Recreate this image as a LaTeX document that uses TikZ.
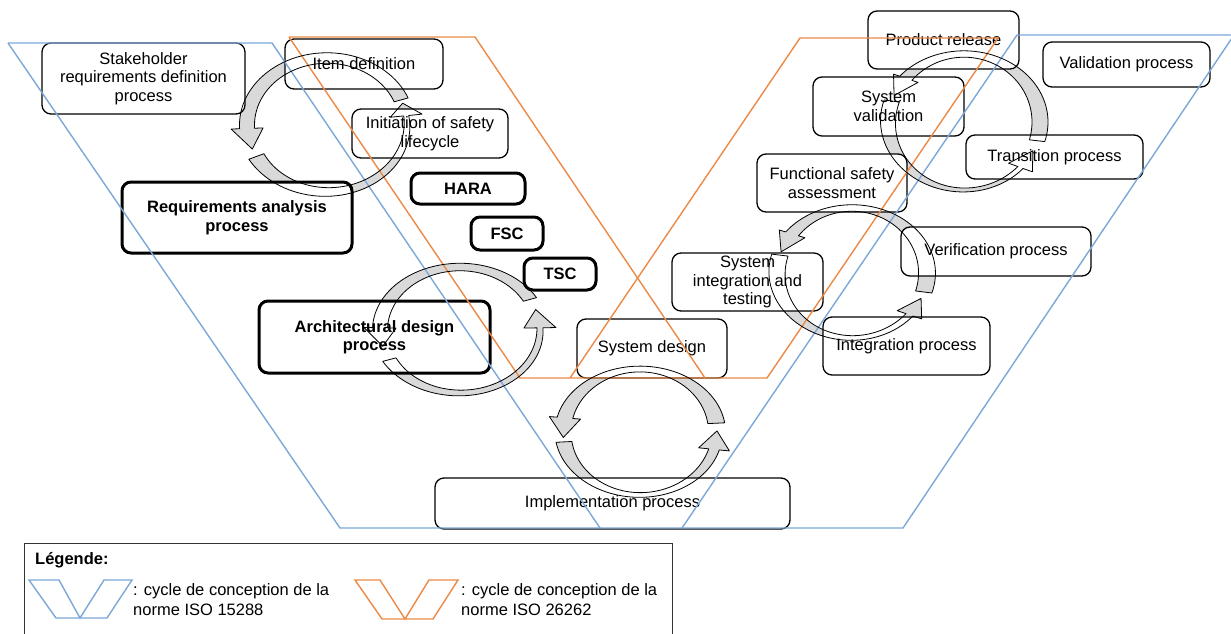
\documentclass[tikz,border=0pt]{standalone}
\usepackage{fontspec}
\setmainfont{Liberation Sans}
\definecolor{vblue}{HTML}{7DA7D9}
\definecolor{vorange}{HTML}{EB8A45}
\definecolor{arrowgray}{HTML}{D9D9D9}

% Circular arrows: centre, radii, band flattening, tail/head angles,
% tail/head half widths, tip angle.
\newcommand\HeadHalf{16}
\newcommand\carrows[1]{%
  \foreach \cx/\cy/\rx/\ry/\ky/\ta/\tb/\wa/\wb/\tp in {
    327/125/80/67/0.7/-22/-183/7.5/7.5/-201,
    327/125/80/67/0.7/152/-8/8.5/2.5/-19,
    460/330/80/63/0.5/-29/-178/7.5/7.5/-195,
    460/330/80/63/0.5/152/-2/7.5/3/-19,
    640/432/77/63/0.35/-8/-167/8.5/8/-185,
    640/432/77/63/0.35/171/16/8/5.5/-1,
    852/273/75/65/0.4/17/-143/8.5/8/-161,
    852/273/75/65/0.4/196/40/8.5/4.5/23,
    964/122/76/68/0.4/16/-140/8/8/-157,
    964/122/76/68/0.4/198/42/8/3.5/25}{
    \path[#1]
      plot[domain=0:1,samples=50,variable=\s]
        ({\cx+(\rx+(\wa+((\wb)-(\wa))*\s))*cos(\ta+((\tb)-(\ta))*\s)},
         {\cy+(\ry+(\wa+((\wb)-(\wa))*\s)*\ky)*sin(\ta+((\tb)-(\ta))*\s)})
      -- ({\cx+(\rx+\HeadHalf)*cos(\tb)},{\cy+(\ry+\HeadHalf*\ky)*sin(\tb)})
      -- ({\cx+\rx*cos(\tp)},{\cy+\ry*sin(\tp)})
      -- ({\cx+(\rx-\HeadHalf)*cos(\tb)},{\cy+(\ry-\HeadHalf*\ky)*sin(\tb)})
      -- plot[domain=0:1,samples=50,variable=\s]
        ({\cx+(\rx-(\wb+((\wa)-(\wb))*\s))*cos(\tb+((\ta)-(\tb))*\s)},
         {\cy+(\ry-(\wb+((\wa)-(\wb))*\s)*\ky)*sin(\tb+((\ta)-(\tb))*\s)})
      -- cycle;
  }%
}

\begin{document}
\begin{tikzpicture}[x=1pt,y=-1pt,
  box/.style={draw=black,line width=1.3pt,rounded corners=9pt,fill=white,
    align=center,inner sep=0pt,font=\fontsize{16.5}{18.5}\selectfont},
  boldbox/.style={box,line width=3pt,font=\fontsize{16.5}{18.5}\selectfont\bfseries},
  bluev/.style={draw=vblue,line width=1.4pt},
  orangev/.style={draw=vorange,line width=1.4pt},
  legtext/.style={anchor=west,align=left,inner sep=0pt,font=\fontsize{16.5}{20}\selectfont}]
\useasboundingbox (0,0) rectangle (1231,634);
\clip (0,0) rectangle (1231,634);

% arrow bodies
\carrows{fill=arrowgray}

% process boxes
\node[box,minimum width=203pt,minimum height=71pt] (stake) at (143.5,78.5) {Stakeholder\\requirements definition\\process};
\node[box,minimum width=158pt,minimum height=50pt] (item) at (364,64) {Item definition};
\node[box,minimum width=156pt,minimum height=49pt] (init) at (430,133.5) {Initiation of safety\\lifecycle};
\node[boldbox,minimum width=114pt,minimum height=31pt] (hara) at (468,188.5) {HARA};
\node[boldbox,minimum width=72pt,minimum height=33pt] (fsc) at (507,233.5) {FSC};
\node[boldbox,minimum width=72pt,minimum height=32pt] (tsc) at (560,274) {TSC};
\node[boldbox,minimum width=230pt,minimum height=71pt] (req) at (237,217.5) {Requirements analysis\\process};
\node[boldbox,minimum width=231pt,minimum height=72pt] (arch) at (374.5,337) {Architectural design\\process};
\node[box,minimum width=150pt,minimum height=59pt] (sysdes) at (652,348.5) {System design};
\node[box,minimum width=355pt,minimum height=51pt] (impl) at (612.5,503.5) {Implementation process};
\node[box,minimum width=151pt,minimum height=58pt] (sit) at (747.5,282) {System\\integration and\\testing};
\node[box,minimum width=167pt,minimum height=58pt] (integ) at (906.5,346) {Integration process};
\node[box,minimum width=190pt,minimum height=49pt] (verif) at (996,251.5) {Verification process};
\node[box,minimum width=150pt,minimum height=58pt] (fsa) at (832,183) {Functional safety\\assessment};
\node[box,minimum width=151pt,minimum height=59pt] (sysval) at (888.5,106.5) {System\\validation};
\node[box,minimum width=177pt,minimum height=44pt] (trans) at (1054.5,157) {Transition process};
\node[box,minimum width=151pt,minimum height=58pt] (prodrel) at (943.5,40) {Product release};
\node[box,minimum width=167pt,minimum height=45pt] (valproc) at (1126.5,64.5) {Validation process};

% ISO 15288 V cycle
\draw[bluev] (8,43) -- (340,528) -- (903,528) -- (1236,32);
\draw[bluev] (8,43) -- (272,43) -- (600,528);
\draw[bluev] (682,528) -- (1017,35) -- (1240,35);

% ISO 26262 V cycle
\draw[orangev] (289,37) -- (520,378) -- (767,378) -- (998,38) -- (800,38) -- (570,378);
\draw[orangev] (289,37) -- (475,37) -- (705,378);

% arrow outlines
\carrows{draw=black,line width=0.8pt,line join=round}

% legend
\draw[draw=black!80,line width=1pt] (24,543) rectangle (672,660);
\node[anchor=west,inner sep=0pt,font=\fontsize{16.5}{20}\selectfont\bfseries] (legtitle) at (35,560) {Légende:};
\draw[bluev] (29,580) -- (56,618) -- (107,618) -- (132,580) -- (104,580) -- (80,618) -- (59,580) -- cycle;
\node[legtext] (leg1) at (133,600) {: cycle de conception de la\\norme ISO 15288};
\draw[orangev] (355,580) -- (382,619) -- (433,619) -- (458,580) -- (429,580) -- (405,619) -- (380,580) -- cycle;
\node[legtext] (leg2) at (461,600) {: cycle de conception de la\\norme ISO 26262};
\end{tikzpicture}
\end{document}
